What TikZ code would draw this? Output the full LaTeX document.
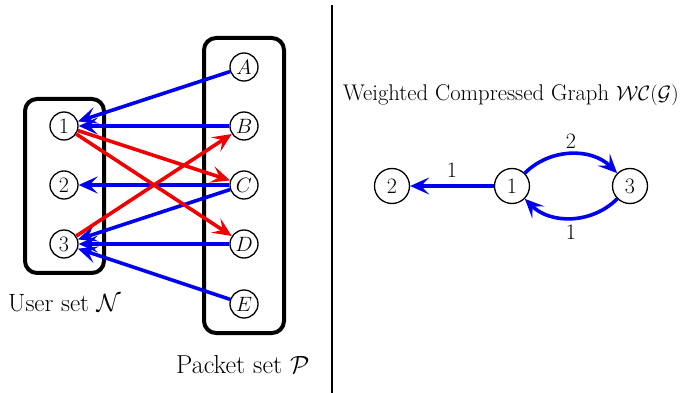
\documentclass[tikz,border=0pt]{standalone}
\usetikzlibrary{arrows.meta}
\begin{document}
\begin{tikzpicture}[x=1pt,y=-1pt,
  vert/.style={circle,draw,line width=1.3pt,minimum size=28pt,inner sep=0pt,font=\fontsize{22}{24}\selectfont},
  rvert/.style={vert,minimum size=35pt},
  setbox/.style={draw,line width=4pt,rounded corners=12pt},
  tip/.style={-{Stealth[length=19pt,width=17pt,inset=8pt]}},
  bl/.style={tip,draw={rgb,255:red,0;green,0;blue,240},line width=3.6pt},
  rd/.style={tip,draw={rgb,255:red,240;green,0;blue,0},line width=3.6pt},
  txt/.style={font=\fontsize{25}{30}\selectfont,inner sep=0pt},
  wtxt/.style={font=\fontsize{22.7}{27}\selectfont,inner sep=0pt},
  wlab/.style={font=\fontsize{22}{24}\selectfont,inner sep=0pt}]
\useasboundingbox (0,0) rectangle (681,393);
% boxes
\draw[setbox] (25,99) rectangle (104,273);
\draw[setbox] (204,38) rectangle (284,333);
% separator
\draw[line width=2.5pt] (332,5) -- (332,393);
% user nodes
\node[vert] (u1) at (64,126) {1};
\node[vert] (u2) at (64,185) {2};
\node[vert] (u3) at (64,244) {3};
% packet nodes
\node[vert] (pA) at (244,67) {$A$};
\node[vert] (pB) at (244,126) {$B$};
\node[vert] (pC) at (244,185) {$C$};
\node[vert] (pD) at (244,244) {$D$};
\node[vert] (pE) at (244,304) {$E$};
% blue edges
\draw[bl] (pA) -- (u1);
\draw[bl] (pB) -- (u1);
\draw[bl] (pC) -- (u2);
\draw[bl] (pC) -- (u3);
\draw[bl] (pD) -- (u3);
\draw[bl] (pE) -- (u3);
% red edges
\draw[rd] (u1) -- (pC);
\draw[rd] (u1) -- (pD);
\draw[rd] (u3) -- (pB);
% labels
\node[txt,anchor=west] (ul) at (8,303) {User set $\mathcal{N}$};
\node[txt,anchor=west,font=\fontsize{26}{31}\selectfont] (pl) at (176,365) {Packet set $\mathcal{P}$};
\node[wtxt,anchor=west] (wl) at (343,95) {Weighted Compressed Graph $\mathcal{WC}(\mathcal{G})$};
% right graph
\node[rvert] (r2) at (392,186) {2};
\node[rvert] (r1) at (512,186) {1};
\node[rvert] (r3) at (630,186) {3};
\draw[bl] (r1) -- node[wlab,above=7pt] {1} (r2);
\draw[bl] (r1) to[bend left=45] node[wlab,above=4pt] {2} (r3);
\draw[bl] (r3) to[bend left=45] node[wlab,below=5pt] {1} (r1);
\end{tikzpicture}
\end{document}
